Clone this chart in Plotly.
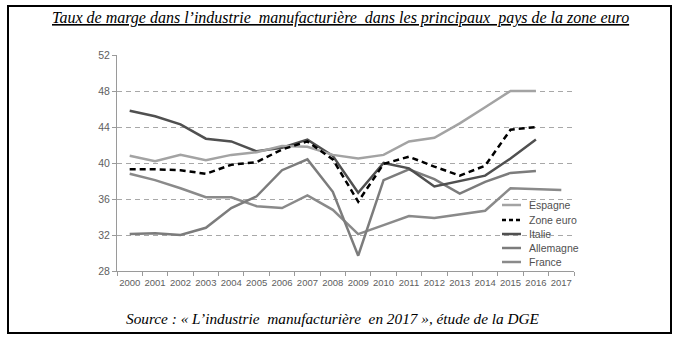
import plotly.graph_objects as go

years = [str(y) for y in range(2000, 2018)]

espagne = [40.8, 40.2, 40.9, 40.3, 40.9, 41.2, 41.9, 41.8, 40.9, 40.5, 40.9, 42.4, 42.8, 44.4, 46.2, 48.0, 48.0]
zone_euro = [39.3, 39.3, 39.2, 38.8, 39.8, 40.1, 41.5, 42.4, 40.4, 35.7, 39.9, 40.7, 39.6, 38.6, 39.7, 43.7, 44.0]
italie = [45.8, 45.2, 44.3, 42.7, 42.4, 41.3, 41.7, 42.6, 40.8, 36.7, 40.0, 39.4, 37.4, 38.0, 38.6, 40.5, 42.6]
allemagne = [32.1, 32.2, 32.0, 32.8, 35.0, 36.3, 39.2, 40.4, 36.8, 29.7, 38.1, 39.3, 38.2, 36.6, 37.9, 38.9, 39.1]
france = [38.8, 38.1, 37.2, 36.2, 36.2, 35.2, 35.0, 36.4, 34.8, 32.1, 33.1, 34.1, 33.9, 34.3, 34.7, 37.2, 37.1, 37.0]

y_ticks = [28, 32, 36, 40, 44, 48, 52]

legend_order = ["Espagne", "Zone euro", "Italie", "Allemagne", "France"]

title_text = "Taux de marge dans l\u2019industrie \u00a0manufacturi\u00e8re \u00a0dans les principaux \u00a0pays de la zone euro"
source_text = "Source : \u00ab L\u2019industrie \u00a0manufacturi\u00e8re \u00a0en 2017 \u00bb, \u00e9tude de la DGE"

W, H = 680, 341
L, R, T, B = 117, 574, 55, 271

def px_x(x):
    return (x - L) / (R - L)

def px_y(y):
    return (B - y) / (B - T)

sans = "Liberation Sans Narrow, Liberation Sans, Arial, sans-serif"

styles = {
    "France": ("#8a8a8a", "solid"),
    "Allemagne": ("#7c7c7c", "solid"),
    "Italie": ("#505050", "solid"),
    "Espagne": ("#a3a3a3", "solid"),
    "Zone euro": ("#000000", "6px,4px"),
}
data = {
    "France": france,
    "Allemagne": allemagne,
    "Italie": italie,
    "Espagne": espagne,
    "Zone euro": zone_euro,
}

fig = go.Figure()
for name in ["France", "Allemagne", "Italie", "Espagne", "Zone euro"]:
    col, dash = styles[name]
    vals = data[name]
    fig.add_trace(go.Scatter(
        x=years[:len(vals)], y=vals, name=name, mode="lines",
        line=dict(color=col, width=2.5, dash=dash),
        showlegend=False,
    ))

# manual legend (compact, like the reference)
shapes = []
annotations = []
row_y = [205, 220, 234, 248, 262]
for name, yy in zip(legend_order, row_y):
    col, dash = styles[name]
    shapes.append(dict(type="line", xref="paper", yref="paper",
                       x0=px_x(502), x1=px_x(521), y0=px_y(yy), y1=px_y(yy),
                       line=dict(color=col, width=2.5, dash="4px,3px" if dash != "solid" else "solid")))
    annotations.append(dict(xref="paper", yref="paper", x=px_x(527), y=px_y(yy),
                            xanchor="left", yanchor="middle", text=name, showarrow=False,
                            font=dict(family=sans, size=10.5, color="#505050")))

annotations.append(dict(xref="paper", yref="paper", x=px_x(340), y=px_y(18), xanchor="center", yanchor="middle",
                        text="<u>" + title_text + "</u>", showarrow=False,
                        font=dict(family="Liberation Serif, serif", size=16, color="#000", style="italic")))
annotations.append(dict(xref="paper", yref="paper", x=px_x(333), y=px_y(318), xanchor="center", yanchor="middle",
                        text=source_text, showarrow=False,
                        font=dict(family="Liberation Serif, serif", size=15.3, color="#000", style="italic")))

shapes.append(dict(type="rect", xref="paper", yref="paper",
                   x0=px_x(8), x1=px_x(671), y0=px_y(333), y1=px_y(6),
                   line=dict(color="black", width=2), fillcolor="rgba(0,0,0,0)", layer="below"))

fig.update_layout(
    width=W, height=H, autosize=False,
    margin=dict(l=L, r=W - R, t=T, b=H - B, pad=0),
    paper_bgcolor="white", plot_bgcolor="white",
    showlegend=False,
    xaxis=dict(
        type="category", range=[-0.5, 17.5],
        showgrid=False, zeroline=False,
        showline=True, linecolor="#9a9a9a", linewidth=1,
        ticks="outside", tickson="boundaries", ticklen=4, tickcolor="#9a9a9a",
        tickangle=0, tickfont=dict(family=sans, size=9.5, color="#606060"),
        ticklabelstandoff=3,
    ),
    yaxis=dict(
        range=[28, 52], tickvals=y_ticks,
        showgrid=True, gridcolor="#a8a8a8", gridwidth=1, griddash="5px,4px",
        zeroline=False,
        showline=True, linecolor="#9a9a9a", linewidth=1,
        ticks="outside", ticklen=4, tickcolor="#9a9a9a",
        tickfont=dict(family=sans, size=10.5, color="#606060"),
    ),
    annotations=annotations,
    shapes=shapes,
)

fig.write_html("out.html")
